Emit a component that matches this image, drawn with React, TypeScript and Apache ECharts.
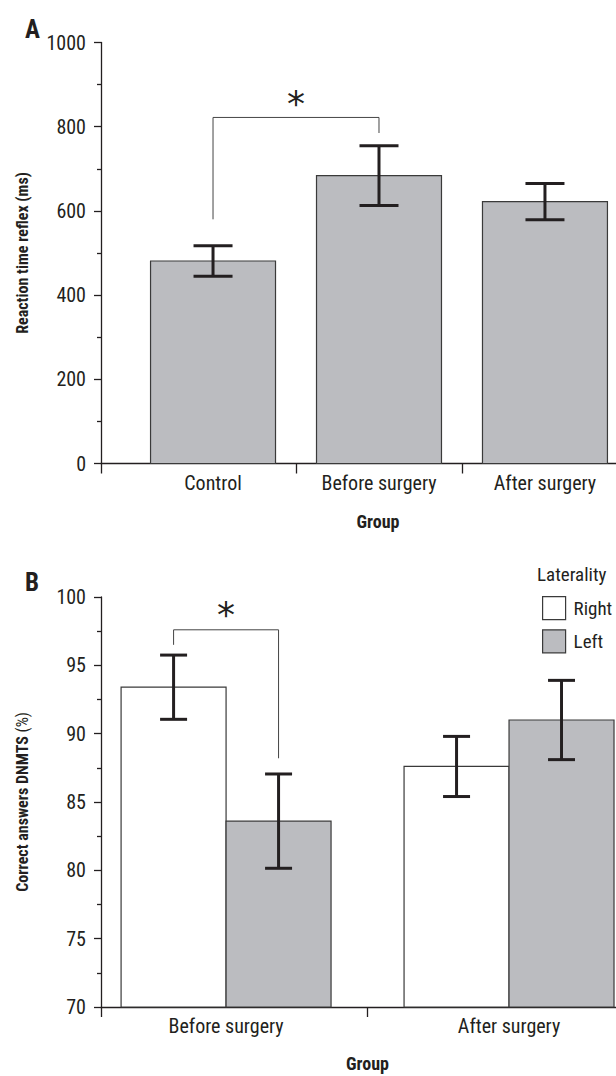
import React, { useEffect, useRef } from "react";
import * as echarts from "echarts";

// ---------- data ----------
const groupsA = ["Control", "Before surgery", "After surgery"];
const meanA = [481, 684, 622];
const semA = [36, 71, 43];

const groupsB = ["Before surgery", "After surgery"];
const meanRight = [93.4, 87.6];
const semRight = [2.35, 2.2];
const meanLeft = [83.6, 91.0];
const semLeft = [3.45, 2.9];

const yTicksA = [0, 1000, 200];
const yTicksB = [70, 100, 5];

// significance brackets: [fromX, toX, top, fromEnd, toEnd, star]
const sigA = [0, 1, 822, 580, 785, 866];
const sigB = [-0.1855, 0.1855, 97.6, 96.5, 88.2, 99.1];

// ---------- style ----------
const FONT = '"Liberation Sans Narrow", "Roboto Condensed", Roboto, sans-serif';
const INK = "#231f20";
const GRAY = "#bbbcc0";

function errorBar(api: any, x: number, lo: number, hi: number, capHalf: number) {
  const t = api.coord([x, hi]);
  const b = api.coord([x, lo]);
  const st = { stroke: INK, lineWidth: 3 };
  return [
    { type: "line", shape: { x1: t[0], y1: t[1], x2: b[0], y2: b[1] }, style: st },
    { type: "line", shape: { x1: t[0] - capHalf, y1: t[1], x2: t[0] + capHalf, y2: t[1] }, style: st },
    { type: "line", shape: { x1: b[0] - capHalf, y1: b[1], x2: b[0] + capHalf, y2: b[1] }, style: st },
  ];
}

function barSeries(name: string, means: number[], sems: number[], xIdx: number, offset: number, halfW: number, base: number, fill: string, capHalf: number) {
  return {
    type: "custom",
    name,
    xAxisIndex: xIdx,
    yAxisIndex: xIdx,
    itemStyle: { color: fill, borderColor: INK, borderWidth: 1.2 },
    encode: { x: 0, y: 1 },
    data: means.map((m, i) => [i, m, m - sems[i], m + sems[i]]),
    renderItem: (params: any, api: any) => {
      const x = api.value(0) + offset;
      const v = api.value(1);
      const p0 = api.coord([x - halfW, v]);
      const p1 = api.coord([x + halfW, base]);
      return {
        type: "group",
        children: [
          {
            type: "rect",
            shape: { x: p0[0], y: p0[1], width: p1[0] - p0[0], height: p1[1] - p0[1] },
            style: { fill, stroke: "#3a3a3a", lineWidth: 1.2 },
          },
          ...errorBar(api, x, api.value(2), api.value(3), capHalf),
        ],
      };
    },
    z: 3,
  };
}

function bracketSeries(sig: number[], xIdx: number) {
  return {
    type: "custom",
    name: "sig" + xIdx,
    xAxisIndex: xIdx,
    yAxisIndex: xIdx,
    data: [sig],
    encode: { x: 0, y: 2 },
    silent: true,
    renderItem: (params: any, api: any) => {
      const a = api.coord([api.value(0), api.value(3)]);
      const b = api.coord([api.value(0), api.value(2)]);
      const c = api.coord([api.value(1), api.value(2)]);
      const d = api.coord([api.value(1), api.value(4)]);
      const s = api.coord([(api.value(0) + api.value(1)) / 2, api.value(5)]);
      return {
        type: "group",
        children: [
          {
            type: "polyline",
            shape: { points: [a, b, c, d] },
            style: { stroke: "#444", lineWidth: 1, fill: "none" },
          },
          {
            type: "text",
            x: s[0],
            y: s[1] + 5,
            style: {
              text: "*",
              fontFamily: '"DejaVu Sans", sans-serif',
              fontSize: 36,
              fill: INK,
              align: "center",
              verticalAlign: "middle",
            },
          },
        ],
      };
    },
    z: 4,
  };
}

function xAxisCfg(gridIndex: number, min: number, max: number, ticks: number[], labels: number[], names: string[], namePad: number, nameGap: number) {
  return {
    type: "value",
    gridIndex,
    min,
    max,
    name: "Group",
    nameLocation: "middle",
    nameGap,
    nameTextStyle: { fontFamily: FONT, fontWeight: "bold", fontSize: 18, color: INK, padding: [0, 0, 0, namePad] },
    axisLine: { show: true, onZero: false, lineStyle: { color: INK, width: 1.3 } },
    axisTick: { show: true, length: 10, customValues: ticks, lineStyle: { color: INK, width: 1.3 } },
    axisLabel: {
      show: true,
      customValues: labels,
      margin: 9,
      fontFamily: FONT,
      fontSize: 20,
      color: INK,
      formatter: (v: number) => names[Math.round(v)] ?? "",
    },
    splitLine: { show: false },
  };
}

function yAxisCfg(gridIndex: number, t: number[], name: any, rich?: any) {
  return {
    type: "value",
    gridIndex,
    min: t[0],
    max: t[1],
    interval: t[2],
    name,
    nameLocation: "middle",
    nameGap: 71,
    nameTextStyle: { fontFamily: FONT, fontWeight: "bold", fontSize: 16, color: INK, rich },
    axisLine: { show: true, onZero: false, lineStyle: { color: INK, width: 1.3 } },
    axisTick: { show: true, length: 7, lineStyle: { color: INK, width: 1.3 } },
    minorTick: { show: true, splitNumber: 2, length: 4, lineStyle: { color: INK, width: 1.3 } },
    axisLabel: { margin: 15, fontFamily: FONT, fontSize: 20, color: INK, formatter: (v: number) => String(v) },
    splitLine: { show: false },
    minorSplitLine: { show: false },
  };
}

export default function App() {
  const ref = useRef<HTMLDivElement>(null);
  useEffect(() => {
    if (!ref.current) return;
    const chart = echarts.init(ref.current, null, { renderer: "svg" });
    const option: any = {
      animation: false,
      backgroundColor: "#ffffff",
      grid: [
        { left: 101, top: 42.5, width: 515, height: 421 },
        { left: 101, top: 597, width: 515, height: 410 },
      ],
      xAxis: [
        xAxisCfg(0, -0.675, 2.428, [-0.674, 0.5, 1.5], [0, 1, 2], groupsA, 39, 49),
        xAxisCfg(1, -0.442, 1.378, [-0.441, 0.5], [0, 1], groupsB, 18, 47),
      ],
      yAxis: [
        yAxisCfg(0, yTicksA, "Reaction time reflex (ms)"),
        yAxisCfg(1, yTicksB, "Correct answers DNMTS {r|(%)}", {
          r: { fontFamily: FONT, fontWeight: "normal", fontSize: 16, color: INK },
        }),
      ],
      legend: {
        orient: "vertical",
        left: 537,
        top: 591,
        itemWidth: 23,
        itemHeight: 23,
        itemGap: 9,
        selectedMode: false,
        textStyle: { fontFamily: FONT, fontSize: 19, color: INK, padding: [0, 0, 0, 3] },
        data: [
          { name: "Right", icon: "rect", itemStyle: { color: "#ffffff", borderColor: "#3a3a3a", borderWidth: 1.2 } },
          { name: "Left", icon: "rect", itemStyle: { color: GRAY, borderColor: "#3a3a3a", borderWidth: 1.2 } },
        ],
      },
      graphic: [
        { type: "text", left: 25, top: 17, style: { text: "A", fontFamily: FONT, fontWeight: "bold", fontSize: 25, fill: INK } },
        { type: "text", left: 25, top: 570, style: { text: "B", fontFamily: FONT, fontWeight: "bold", fontSize: 25, fill: INK } },
        { type: "text", left: 537, top: 565, style: { text: "Laterality", fontFamily: FONT, fontSize: 19, fill: INK } },
      ],
      series: [
        barSeries("Reaction time", meanA, semA, 0, 0, 0.3765, 0, GRAY, 19.5),
        bracketSeries(sigA, 0),
        barSeries("Right", meanRight, semRight, 1, -0.1855, 0.1855, 70, "#ffffff", 13.5),
        barSeries("Left", meanLeft, semLeft, 1, 0.1855, 0.1855, 70, GRAY, 13.5),
        bracketSeries(sigB, 1),
      ],
    };
    chart.setOption(option);
    return () => chart.dispose();
  }, []);
  return <div ref={ref} style={{ position: "absolute", left: 0, top: 0, width: 616, height: 1076 }} />;
}
